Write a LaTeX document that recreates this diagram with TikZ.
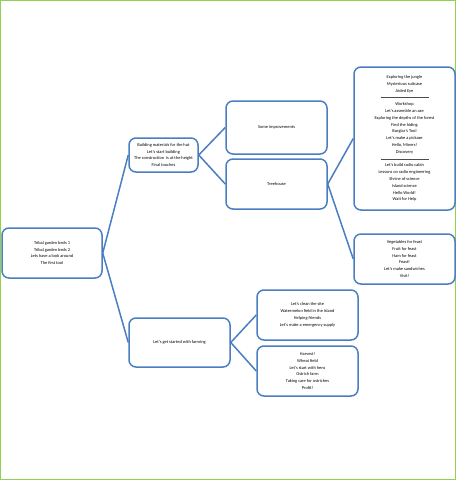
\documentclass[tikz,border=0pt]{standalone}
\usepackage{fontspec}
\setmainfont{Carlito}
\usetikzlibrary{positioning}
\definecolor{skyline}{RGB}{74,126,193}
\definecolor{grass}{RGB}{146,208,80}
\tikzset{
  topic/.style={draw=skyline,fill=white,line width=1.5pt,rounded corners=7pt,
    inner sep=0pt,minimum width=#1,align=center,
    font=\fontsize{4.4}{6.8}\selectfont},
  topic/.default=101pt,
  branch/.style={draw=skyline,line width=1.5pt},
}
\newcommand{\sepline}{\textcolor{black!70}{\rule[0.6ex]{48pt}{0.25pt}}}

\begin{document}
\begin{tikzpicture}[x=1pt,y=-1pt]
        \useasboundingbox (0,0) rectangle (456,480);
        \draw[grass,line width=1.2pt] (0.6,0.6) rectangle (455.4,479.4);
        \node[topic=100pt,minimum height=50pt] (root) at (52,253) {Tribal garden beds 1\\Tribal garden beds 2\\Lets have a look around\\The first tool};
        \node[topic=69pt,minimum height=34pt] (hut) at (163.5,155) {Building materials for the hut\\Let's start building\\The construction \ is at the height\\Final touches};
        \node[topic,minimum height=49pt] (farm) at (179.5,342.5) {Let's get started with farming};
        \node[topic,minimum height=53pt] (impr) at (276.5,127.5) {Some improvements};
        \node[topic,minimum height=50pt] (tree) at (276.5,184) {Treehouse};
        \node[topic,minimum height=143pt] (jungle) at (404.5,138.5) {Exploring the jungle\\Mysterious suitcase\\Aided Eye\\\sepline\\Workshop\\Let's assemble an axe\\Exploring the depths of the forest\\Find the hiding\\Burglar's Tool\\Let's make a pickaxe\\Hello, Miners!\\Discovery\\\sepline\\Let's build radio cabin\\Lessons on radio engineering\\Shrine of science\\Island science\\Hello World!\\Wait for Help};
        \node[topic,minimum height=50pt] (feast) at (404.5,259) {Vegetables for feast\\Fruit for feast\\Ham for feast\\Feast!\\Let's make sandwiches\\Visit!};
        \node[topic,minimum height=50pt] (site) at (307.5,315) {Let's clean the site\\Watermelon field in the island\\Helping friends\\Let's make a emergency supply};
        \node[topic,minimum height=50pt] (harvest) at (307.5,371) {Harvest!\\Wheat field\\Let's start with hens\\Ostrich farm\\Taking care for ostriches\\Profit!};
        % links between the boxes
        \draw[branch] (root.east) -- (hut.west);
        \draw[branch] (root.east) -- (farm.west);
        \draw[branch] (hut.east) -- (impr.west);
        \draw[branch] (hut.east) -- (tree.west);
        \draw[branch] (tree.east) -- (jungle.west);
        \draw[branch] (tree.east) -- (feast.west);
        \draw[branch] (farm.east) -- (site.west);
        \draw[branch] (farm.east) -- (harvest.west);
      \end{tikzpicture}
\end{document}
